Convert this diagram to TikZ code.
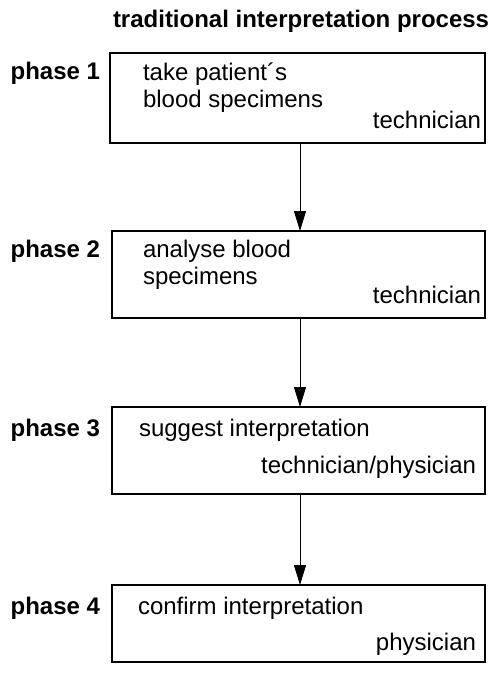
\documentclass[tikz,border=0pt]{standalone}
\usepackage{fontspec}
\setmainfont{Liberation Sans}
\usetikzlibrary{arrows.meta}
\begin{document}
\begin{tikzpicture}[x=1pt,y=-1pt,
  every node/.style={inner sep=0pt,outer sep=0pt},
  txt/.style={font=\fontsize{24}{28}\selectfont},
  btxt/.style={font=\fontsize{24}{28}\selectfont\bfseries},
  phasebox/.style={draw,line width=1.8pt,anchor=north west,minimum width=373pt},
  arr/.style={line width=1pt,-{Triangle[length=20pt,width=12pt]}}]
\useasboundingbox (0,0) rectangle (489,673);
% title
\node[btxt,anchor=base west] (title) at (113,27) {traditional interpretation process};
% boxes
\node[phasebox,minimum width=375pt,minimum height=90pt] (b1) at (110,53) {};
\node[phasebox,minimum height=87pt] (b2) at (112,231) {};
\node[phasebox,minimum height=87pt] (b3) at (112,407) {};
\node[phasebox,minimum height=77pt] (b4) at (112,585) {};
% phase labels
\node[btxt,anchor=base east] (p1) at (100,79) {phase 1};
\node[btxt,anchor=base east] (p2) at (100,257) {phase 2};
\node[btxt,anchor=base east] (p3) at (100,436) {phase 3};
\node[btxt,anchor=base east] (p4) at (100,614) {phase 4};
% box texts
\node[txt,anchor=base west] (t1a) at (143,80) {take patient´s};
\node[txt,anchor=base west] (t1b) at (143,107) {blood specimens};
\node[txt,anchor=base east] (r1) at (481,128) {technician};
\node[txt,anchor=base west] (t2a) at (143,257) {analyse blood};
\node[txt,anchor=base west] (t2b) at (143,284) {specimens};
\node[txt,anchor=base east] (r2) at (481,303) {technician};
\node[txt,anchor=base west] (t3a) at (139,436) {suggest interpretation};
\node[txt,anchor=base east] (r3) at (476,473) {technician/physician};
\node[txt,anchor=base west] (t4a) at (138,614) {confirm interpretation};
\node[txt,anchor=base east] (r4) at (476,650) {physician};
% arrows
\draw[arr] ([xshift=2.5pt]b1.south) -- ([xshift=1.5pt]b2.north);
\draw[arr] ([xshift=1.5pt]b2.south) -- ([xshift=1.5pt]b3.north);
\draw[arr] ([xshift=1.5pt]b3.south) -- ([xshift=1.5pt]b4.north);
\end{tikzpicture}
\end{document}
